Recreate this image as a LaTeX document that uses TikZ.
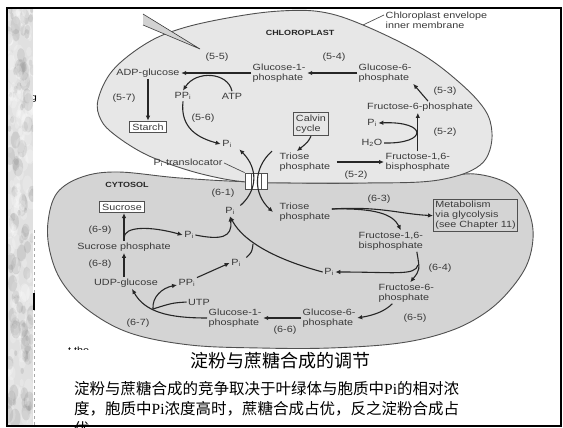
\documentclass[tikz,border=0pt]{standalone}
\usepackage{fontspec}
\newfontfamily\diag{Liberation Sans}[FakeStretch=1.2]
\newfontfamily\cjk{Noto Sans CJK SC}
\newfontfamily\ser{Liberation Serif}
\usetikzlibrary{arrows.meta}

\definecolor{ink}{HTML}{262626}
\definecolor{txt}{HTML}{3A3A3A}
\definecolor{chlfill}{HTML}{E7E7E7}
\definecolor{cytfill}{HTML}{D4D4D4}
\definecolor{edge}{HTML}{505050}

\tikzset{
  lbl/.style={font=\diag\fontsize{9}{10}\selectfont, text=txt, inner sep=1.5pt, align=left},
  hdr/.style={font=\diag\bfseries\fontsize{7.5}{9}\selectfont, text=ink, inner sep=1pt},
  boxlbl/.style={lbl, draw=edge, line width=0.9pt, inner sep=2.5pt},
  arr/.style={draw=ink, line width=1.1pt, -{Latex[length=5pt,width=4.5pt]}},
  ln/.style={draw=ink, line width=1.1pt},
  lead/.style={draw=edge, line width=0.7pt},
  memb/.style={draw=edge, line width=0.9pt},
  capline/.style={font=\cjk\fontsize{15.5}{20}\selectfont, anchor=base west, inner sep=0},
}

\begin{document}
\begin{tikzpicture}[x=1pt,y=-1pt]
\useasboundingbox (0,0) rectangle (563,428);
\fill[white] (0,0) rectangle (563,428);

% stray fragment of a neighbouring word, half hidden by the side strip
\node[lbl, text=black, inner sep=0] (frag1) at (34,99) {g};

% cytosol compartment
\filldraw[fill=cytfill, memb] plot[smooth cycle, tension=0.6] coordinates {
  (48,222) (57,193) (82,177) (118,172) (180,178) (255,182) (360,183)
  (440,177) (475,174) (507,183) (524,201) (533,230) (528,262) (510,290)
  (485,313) (450,331) (400,343) (330,348) (260,348) (190,345) (130,333)
  (88,310) (62,282) (50,252)};

% chloroplast compartment
\filldraw[fill=chlfill, memb] plot[smooth cycle, tension=0.6] coordinates {
  (98,100) (113,70) (147,43) (183,28) (233,17) (280,11) (322,12) (363,25)
  (420,53) (460,83) (485,110) (492,133) (488,155) (476,168) (453,177)
  (420,182) (360,183) (300,183) (247,182) (210,176) (175,166) (143,153)
  (115,135) (101,120)};

% pointer wedge at the top
\fill[gray!35] (143,14) -- (200,49) -- (143,25) -- cycle;
\draw[gray!45!black, line width=0.6pt] (143,14) -- (200,49) -- (143,25);

% phosphate translocator in the envelope
\node[draw=edge, fill=white, line width=0.8pt, minimum width=22pt, minimum height=16pt, inner sep=0] (tbox) at (256,181) {};
\draw[edge, line width=0.7pt] (251,173) -- (251,189) (261.5,173) -- (261.5,189);

% ---------- chloroplast labels ----------
\node[hdr] (chlhdr) at (300,33) {CHLOROPLAST};
\node[lbl, anchor=west] (env) at (384,20) {Chloroplast envelope\\inner membrane};
\coordinate (envpt) at (363,25);
\node[lbl] (r55) at (217,57) {(5-5)};
\node[lbl] (r54) at (334,57) {(5-4)};
\node[lbl] (adp) at (148,73) {ADP-glucose};
\node[lbl, anchor=west] (g1c) at (251,73) {Glucose-1-\\phosphate};
\node[lbl, anchor=west] (g6c) at (357,73) {Glucose-6-\\phosphate};
\node[lbl] (ppc) at (183,96) {PP\textsubscript{i}};
\node[lbl] (atp) at (232,96) {ATP};
\node[lbl] (r57) at (124,98) {(5-7)};
\node[boxlbl, fill=white] (starch) at (148,127) {Starch};
\node[lbl] (r56) at (203,118) {(5-6)};
\node[lbl] (pic) at (227,144) {P\textsubscript{i}};
\node[boxlbl, fill=chlfill] (calvin) at (311,124) {Calvin\\cycle};
\node[lbl, anchor=west] (trc) at (278,162) {Triose\\phosphate};
\node[lbl, anchor=west] (f16c) at (384,162) {Fructose-1,6-\\bisphosphate};
\node[lbl] (r52b) at (356,175) {(5-2)};
\node[lbl] (f6c) at (420,107) {Fructose-6-phosphate};
\node[lbl] (pih) at (372,123) {P\textsubscript{i}};
\node[lbl] (h2o) at (372,143) {H\textsubscript{2}O};
\node[lbl] (r52) at (445,132) {(5-2)};
\node[lbl] (r53) at (445,91) {(5-3)};
\node[lbl, anchor=west] (transl) at (152,163) {P\textsubscript{i} translocator};

% ---------- cytosol labels ----------
\node[hdr] (cythdr) at (127,185) {CYTOSOL};
\node[lbl] (r61) at (223,193) {(6-1)};
\node[lbl] (piy) at (230,211) {P\textsubscript{i}};
\node[lbl, anchor=west] (try) at (278,212) {Triose\\phosphate};
\node[lbl] (r63) at (379,199) {(6-3)};
\node[boxlbl, fill=cytfill, anchor=north west, inner sep=2pt] (metab) at (433,199) {Metabolism\\via glycolysis\\(see Chapter 11)};
\node[boxlbl, fill=white] (sucrose) at (122,207) {Sucrose};
\node[lbl] (r69) at (100,230) {(6-9)};
\node[lbl] (pis) at (189,235) {P\textsubscript{i}};
\node[lbl] (sucp) at (124,247) {Sucrose phosphate};
\node[lbl] (r68) at (100,264) {(6-8)};
\node[lbl] (udp) at (126,283) {UDP-glucose};
\node[lbl] (ppy) at (187,283) {PP\textsubscript{i}};
\node[lbl] (pim) at (236,263) {P\textsubscript{i}};
\node[lbl] (pir) at (329,272) {P\textsubscript{i}};
\node[lbl, anchor=west] (f16y) at (357,241) {Fructose-1,6-\\bisphosphate};
\node[lbl] (r64) at (440,268) {(6-4)};
\node[lbl, anchor=west] (f6y) at (377,293) {Fructose-6-\\phosphate};
\node[lbl] (r65) at (415,318) {(6-5)};
\node[lbl, anchor=west] (g6y) at (301,318) {Glucose-6-\\phosphate};
\node[lbl] (r66) at (285,330) {(6-6)};
\node[lbl, anchor=west] (g1y) at (207,318) {Glucose-1-\\phosphate};
\node[lbl] (utp) at (199,302) {UTP};
\node[lbl] (r67) at (138,323) {(6-7)};

% ---------- chloroplast reactions ----------
\draw[arr] (g6c.west) -- (g1c.east);
\draw[arr] (g1c.west) -- (adp.east);
\draw[arr] (atp.north) .. controls (228,72) and (196,70) .. (ppc.north);
\draw[arr] (adp.south) -- (starch.north);
\draw[arr] (ppc.south) .. controls (180,128) and (198,138) .. (pic.west);
\draw[arr] (calvin.south) .. controls (308,142) .. ([xshift=-8pt]trc.north);
\draw[arr] ([xshift=5pt]trc.east) -- (f16c.west);
\draw[arr] (f16c.north) -- (f16c.north |- f6c.south);
\draw[arr] (h2o.east) .. controls (428,144) and (428,121) .. (pih.east);
\draw[arr] ([xshift=8pt]f6c.north) -- (g6c.south east);
\draw[lead] (transl.east) -- (tbox.north west);
\draw[lead] ([yshift=-5pt]env.north west) -- (envpt);

% ---------- exchange across the envelope ----------
\draw[arr] ([xshift=4pt]piy.north east) .. controls (258,190) and (258,168) .. ([xshift=6pt]pic.south east);
\draw[arr] ([xshift=-6pt]trc.north west) .. controls (253,168) and (253,194) .. ([xshift=-5pt]try.west);

% ---------- cytosol reactions ----------
\draw[arr] ([yshift=3pt]try.east) .. controls (380,206) and (400,214) .. (metab.west);
\draw[arr] ([yshift=3pt]try.east) .. controls (375,208) and (393,214) .. ([xshift=10pt]f16y.north);
\draw[arr] ([xshift=26pt]f16y.south) .. controls (420,270) .. ([xshift=4pt]f6y.north);
\coordinate (fbr) at (418,265);
\draw[arr] (fbr) .. controls (415,276) and (395,272) .. (pir.east);
\draw[arr] (pir.west) .. controls (285,262) and (245,245) .. (piy.south);
\coordinate (joinm) at (253,244);
\draw[ln] ([xshift=4pt]pim.north east) .. controls (252,252) .. (joinm);
\draw[arr] (pis.east) .. controls (220,240) and (233,238) .. (piy.south);
\draw[arr] (sucp.north) -- (sucp.north |- sucrose.south);
\coordinate (sbr) at (124,238);
\draw[arr] (sbr) .. controls (124,226) and (150,226) .. (pis.west);
\draw[arr] (udp.north -| sucp.south) -- (sucp.south);
\draw[arr] (ppy.north east) -- (pim.west);
\draw[arr] (g6y.west) -- (g1y.east);
\draw[arr] ([xshift=-14pt]f6y.south) .. controls (385,311) and (375,315) .. (g6y.east);
\draw[arr] (g1y.west) .. controls (168,318) and (145,312) .. ([xshift=6pt]udp.south);
\coordinate (ubr) at (153,309);
\draw[arr] (ubr) .. controls (152,297) and (162,288) .. ([yshift=-2pt]ppy.west);
\draw[ln] (utp.west) .. controls (172,303) .. (ubr);

% stray fragment below the diagram, mostly covered
\begin{scope}
  \clip (60,340) rectangle (100,349.5);
  \node[lbl, text=black, anchor=base west, inner sep=0] (frag2) at (68,353) {t the};
\end{scope}

% ---------- caption ----------
\node[font=\cjk\fontsize{18}{20}\selectfont, anchor=base, inner sep=0] (title) at (280,367) {淀粉与蔗糖合成的调节};
\node[capline] (body1) at (74,394) {淀粉与蔗糖合成的竞争取决于叶绿体与胞质中{\ser Pi}的相对浓};
\node[capline] (body2) at (74,414) {度，胞质中{\ser Pi}浓度高时，蔗糖合成占优，反之淀粉合成占};
\node[capline] (body3) at (74,434) {优};

% ---------- slide margin strip ----------
\begin{scope}
  \clip (8,9) rectangle (33,425);
  \fill[gray!24] (8,9) rectangle (33,425);
  \pgfmathsetseed{11}
  \foreach \k in {1,...,260}{
    \pgfmathsetmacro\xx{8+25*rnd}
    \pgfmathsetmacro\yy{9+416*rnd}
    \pgfmathsetmacro\rr{1.5+4*rnd}
    \pgfmathtruncatemacro\gv{rnd>0.55 ? 45 : 0}
    \fill[black!\gv, opacity=0.22] (\xx,\yy) ellipse ({\rr} and {1.8*\rr});
  }
\end{scope}
\draw[gray!70, line width=0.8pt, dashed] (34,230) -- (34,425);
\draw[black, line width=1.2pt] (34,293) -- (34,310);

% slide frame
\draw[black, line width=2pt] (7,8) rectangle (561,426);
\end{tikzpicture}
\end{document}
